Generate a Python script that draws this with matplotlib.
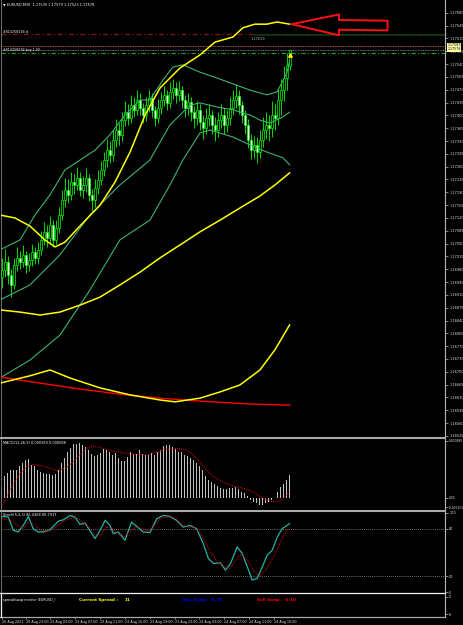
import numpy as np
import matplotlib
matplotlib.use("Agg")
import matplotlib.pyplot as plt
from matplotlib.lines import Line2D

W, H = 463, 625

# ---------------- EURUSD M30 price bars ----------------
opens = [1.16960, 1.16978, 1.17000, 1.16964, 1.16937, 1.16992, 1.17011, 1.17000, 1.17019, 1.16992,
         1.17005, 1.17027, 1.17011, 1.17033, 1.17060, 1.17082, 1.17065, 1.17101, 1.17060, 1.17093,
         1.17128, 1.17169, 1.17196, 1.17183, 1.17218, 1.17210, 1.17229, 1.17196, 1.17210, 1.17229,
         1.17183, 1.17169, 1.17202, 1.17224, 1.17251, 1.17278, 1.17305, 1.17292, 1.17333, 1.17360,
         1.17347, 1.17387, 1.17409, 1.17393, 1.17428, 1.17415, 1.17442, 1.17420, 1.17401, 1.17428,
         1.17447, 1.17415, 1.17393, 1.17420, 1.17442, 1.17456, 1.17434, 1.17464, 1.17475, 1.17456,
         1.17469, 1.17442, 1.17420, 1.17437, 1.17409, 1.17393, 1.17415, 1.17382, 1.17366, 1.17393,
         1.17401, 1.17374, 1.17360, 1.17387, 1.17401, 1.17374, 1.17393, 1.17420, 1.17442, 1.17453,
         1.17428, 1.17401, 1.17374, 1.17333, 1.17305, 1.17319, 1.17300, 1.17333, 1.17360, 1.17374,
         1.17366, 1.17401, 1.17393, 1.17442, 1.17469, 1.17502, 1.17535]
highs = [1.17010, 1.17035, 1.17015, 1.16980, 1.17010, 1.17040, 1.17030, 1.17045, 1.17030, 1.17025,
         1.17050, 1.17040, 1.17055, 1.17085, 1.17110, 1.17100, 1.17125, 1.17115, 1.17115, 1.17150,
         1.17195, 1.17230, 1.17225, 1.17245, 1.17240, 1.17260, 1.17245, 1.17235, 1.17255, 1.17240,
         1.17200, 1.17225, 1.17250, 1.17275, 1.17300, 1.17335, 1.17330, 1.17360, 1.17390, 1.17380,
         1.17410, 1.17440, 1.17430, 1.17455, 1.17450, 1.17470, 1.17460, 1.17435, 1.17450, 1.17470,
         1.17460, 1.17425, 1.17445, 1.17465, 1.17480, 1.17470, 1.17490, 1.17500, 1.17490, 1.17495,
         1.17480, 1.17455, 1.17460, 1.17450, 1.17425, 1.17440, 1.17430, 1.17400, 1.17420, 1.17430,
         1.17415, 1.17395, 1.17410, 1.17430, 1.17420, 1.17415, 1.17450, 1.17470, 1.17485, 1.17470,
         1.17440, 1.17415, 1.17390, 1.17350, 1.17345, 1.17340, 1.17360, 1.17395, 1.17410, 1.17400,
         1.17440, 1.17430, 1.17475, 1.17500, 1.17535, 1.17570, 1.17579]
lows = [1.16930, 1.16960, 1.16940, 1.16905, 1.16925, 1.16975, 1.16980, 1.16985, 1.16970, 1.16975,
        1.16990, 1.16995, 1.16995, 1.17020, 1.17045, 1.17040, 1.17050, 1.17040, 1.17050, 1.17080,
        1.17115, 1.17150, 1.17160, 1.17170, 1.17185, 1.17195, 1.17180, 1.17175, 1.17190, 1.17165,
        1.17140, 1.17150, 1.17185, 1.17210, 1.17235, 1.17260, 1.17270, 1.17275, 1.17315, 1.17320,
        1.17330, 1.17370, 1.17375, 1.17380, 1.17395, 1.17400, 1.17400, 1.17380, 1.17385, 1.17410,
        1.17395, 1.17370, 1.17380, 1.17405, 1.17425, 1.17415, 1.17420, 1.17445, 1.17435, 1.17440,
        1.17420, 1.17395, 1.17400, 1.17385, 1.17365, 1.17375, 1.17360, 1.17335, 1.17350, 1.17370,
        1.17350, 1.17330, 1.17340, 1.17365, 1.17350, 1.17355, 1.17375, 1.17400, 1.17420, 1.17405,
        1.17380, 1.17350, 1.17310, 1.17280, 1.17285, 1.17270, 1.17285, 1.17315, 1.17335, 1.17330,
        1.17340, 1.17360, 1.17375, 1.17400, 1.17440, 1.17470, 1.17523]
closes = [1.16978, 1.17000, 1.16964, 1.16937, 1.16992, 1.17011, 1.17000, 1.17019, 1.16992, 1.17005,
          1.17027, 1.17011, 1.17033, 1.17060, 1.17082, 1.17065, 1.17101, 1.17060, 1.17093, 1.17128,
          1.17169, 1.17196, 1.17183, 1.17218, 1.17210, 1.17229, 1.17196, 1.17210, 1.17229, 1.17183,
          1.17169, 1.17202, 1.17224, 1.17251, 1.17278, 1.17305, 1.17292, 1.17333, 1.17360, 1.17347,
          1.17387, 1.17409, 1.17393, 1.17428, 1.17415, 1.17442, 1.17420, 1.17401, 1.17428, 1.17447,
          1.17415, 1.17393, 1.17420, 1.17442, 1.17456, 1.17434, 1.17464, 1.17475, 1.17456, 1.17469,
          1.17442, 1.17420, 1.17437, 1.17409, 1.17393, 1.17415, 1.17382, 1.17366, 1.17393, 1.17401,
          1.17374, 1.17360, 1.17387, 1.17401, 1.17374, 1.17393, 1.17420, 1.17442, 1.17453, 1.17428,
          1.17401, 1.17374, 1.17333, 1.17305, 1.17319, 1.17300, 1.17333, 1.17360, 1.17374, 1.17366,
          1.17401, 1.17393, 1.17442, 1.17469, 1.17502, 1.17538, 1.17578]

# ---------------- indicator lines on the price chart (bar index, price) ----------------
bb_up_x = [-0.6, 6.1, 11.1, 16.1, 21.1, 26.1, 31.1, 36.1, 41.1, 46.1, 49.4, 53.8, 57.1, 60.4,
           66.1, 71.8, 77.1, 82.8, 88.4, 91.8, 95.1, 96]
bb_up_y = [1.17033, 1.17060, 1.17128, 1.17183, 1.17251, 1.17278, 1.17305, 1.17347, 1.17401, 1.17442,
           1.17442, 1.17497, 1.17532, 1.17538, 1.17518, 1.17502, 1.17486, 1.17469, 1.17456, 1.17464,
           1.17516, 1.17551]
bb_mid_x = [-0.6, 9.4, 19.4, 29.4, 39.4, 49.4, 56.1, 62.8, 66.1, 71.8, 77.1, 82.8, 86.1, 89.4, 93.8, 96]
bb_mid_y = [1.16896, 1.16937, 1.17019, 1.17128, 1.17210, 1.17278, 1.17374, 1.17428, 1.17434, 1.17423,
            1.17415, 1.17401, 1.17387, 1.17379, 1.17396, 1.17409]
bb_low_x = [-0.6, 9.4, 19.4, 29.4, 39.4, 49.4, 56.1, 60.4, 66.1, 69.4, 77.1, 82.8, 88.4, 93.8, 96]
bb_low_y = [1.16683, 1.16732, 1.16800, 1.16923, 1.17060, 1.17114, 1.17210, 1.17278, 1.17352, 1.17360,
            1.17341, 1.17319, 1.17300, 1.17284, 1.17265]

yel_up_x = [-0.6, 4.4, 9.4, 14.4, 17.8, 21.1, 26.1, 32.8, 37.8, 42.8, 47.8, 52.8, 59.4, 66.1, 71.1,
            77.1, 80.4, 84.4, 88.4, 91.8, 96]
yel_up_y = [1.17128, 1.17120, 1.17098, 1.17060, 1.17041, 1.17054, 1.17098, 1.17155, 1.17218, 1.17300,
            1.17401, 1.17475, 1.17529, 1.17565, 1.17600, 1.17614, 1.17639, 1.17649, 1.17649, 1.17655,
            1.17649]
yel_mid_x = [-0.6, 6.1, 12.8, 19.4, 26.1, 32.8, 39.4, 46.1, 52.8, 59.4, 66.1, 72.8, 79.4, 86.1, 91.1, 96]
yel_mid_y = [1.16869, 1.16863, 1.16855, 1.16863, 1.16882, 1.16904, 1.16937, 1.16972, 1.17011, 1.17046,
             1.17082, 1.17114, 1.17147, 1.17180, 1.17210, 1.17243]
yel_low_x = [-0.6, 9.4, 16.1, 22.8, 32.8, 42.8, 52.8, 57.8, 66.1, 72.8, 79.4, 86.1, 91.1, 96]
yel_low_y = [1.16669, 1.16689, 1.16705, 1.16683, 1.16656, 1.16637, 1.16623, 1.16618, 1.16628, 1.16645,
             1.16664, 1.16705, 1.16760, 1.16828]
red_ma_x = [-0.6, 12.8, 26.1, 39.4, 52.8, 66.1, 82.8, 96]
red_ma_y = [1.16686, 1.16669, 1.16653, 1.16639, 1.16628, 1.16620, 1.16612, 1.16609]

# order / price levels
sl_level = 1.17622
hline_level = 1.17619
ask_price = 1.17589
bid_price = 1.17578
buy_price = 1.17570

# ---------------- MACD (x 1e-5) ----------------
macd_hist = [17, 34, 39, 43, 43, 44, 50, 55, 59, 60, 52, 49, 44, 41, 38, 37, 37, 36, 37, 43,
             54, 62, 71, 78, 84, 84, 86, 83, 79, 74, 69, 65, 67, 70, 76, 74, 72, 67, 70, 62,
             58, 58, 64, 71, 69, 69, 75, 69, 67, 67, 70, 67, 71, 74, 81, 83, 83, 80, 76, 72,
             71, 67, 65, 62, 59, 54, 50, 43, 34, 28, 24, 21, 18, 15, 13, 13, 15, 15, 16, 13,
             9, 8, 2, -3, -6, -8, -12, -12, -9, -6, -3, -1, 9, 16, 21, 28, 36]
macd_sig_x = [0, 2.8, 6.1, 8.3, 10.5, 13.9, 17.2, 18.9, 21.1, 23.3, 26.1, 28.3, 30, 32.8, 36.1, 39.4,
              43.9, 48.3, 51.7, 55, 58.3, 61.7, 63.9, 66.1, 68.3, 70.6, 73.9, 77.2, 80.5, 83.9,
              87.2, 90, 92.2, 93.9, 96]
macd_sig_y = [-14, 12, 38, 49, 52, 50, 44, 42, 46, 54, 67, 77, 81, 79, 74, 71, 68, 67, 71, 76, 77,
              75, 67, 56, 43, 33, 24, 18, 15, 9, -1, -6, -6, -1, 8.8]

# ---------------- Stochastic ----------------
stoch_x = [0, 2.2, 3.9, 5.5, 7.2, 8.9, 10.5, 12.2, 13.9, 16.1, 18.9, 20.6, 22.8, 24.4, 26.1, 27.8,
           29.5, 31.1, 32.8, 34.5, 36.1, 37.2, 38.9, 41.1, 43.3, 45, 47.2, 49.4, 51.7, 53.9, 56.1,
           58.3, 60.5, 62.8, 65, 67.2, 68.9, 70.6, 72.9, 74.6, 76.3, 78.5, 80.2, 81.9, 83.5, 85.2,
           86.9, 88.5, 90.2, 91.9, 93.5, 96]
stoch_k = [95.4, 94.7, 77.9, 75.8, 84.1, 95.4, 80, 75.8, 75.8, 78.7, 89.5, 91.2, 96.6, 94.7, 85.4,
           87, 77, 67.5, 77.9, 90.4, 84.1, 73.7, 75.8, 65.4, 88.3, 82.9, 75.8, 75, 92.5, 96.6, 95.4,
           90.4, 82, 84.1, 80, 61.2, 42.5, 36.2, 37.1, 27.9, 36.2, 57.1, 48.7, 32, 15.4, 17.5, 32,
           46.6, 52.9, 69.5, 80, 86.4]
stoch_sig_x = [0, 3, 5, 7, 9, 11, 13, 16, 19, 22, 25, 27, 29, 31, 33, 35, 37, 39, 41, 43, 45, 47, 49,
               51, 53, 56, 58, 60, 62, 64, 66, 68, 70, 72, 74, 76, 78, 80, 82, 84, 86, 88, 90, 92,
               94, 96]
stoch_d = [93, 90, 85, 80, 88, 85, 78, 77, 85, 92, 94, 88, 82, 73, 72, 82, 80, 73, 70, 78, 82, 80,
           77, 85, 93, 95, 93, 85, 82, 82, 75, 62, 48, 38, 33, 30, 40, 48, 40, 27, 20, 28, 40, 55,
           72, 80]

price_ticks = np.round(np.arange(1.16525, 1.17681, 0.00035), 5)
time_pos = [0, 8, 16, 24.4, 32.8, 41.1, 49.4, 57.8, 65.8, 74.1, 82.4, 90.8]
time_labels = ["20 Aug 2021", "20 Aug 23:00", "23 Aug 03:00", "23 Aug 07:00", "23 Aug 11:00",
               "23 Aug 15:00", "23 Aug 19:00", "23 Aug 23:00", "24 Aug 03:00", "24 Aug 07:00",
               "24 Aug 11:00", "24 Aug 15:00"]

FS = 2.5
AXC = "#B8B8B8"
XLIM = (-0.23, 147.8)

fig = plt.figure(figsize=(W / 100, H / 100), dpi=100, facecolor="black")


def box(top, bottom, left=1, right=445):
    return [left / W, 1 - bottom / H, (right - left) / W, (bottom - top) / H]


def fpx(x, y):
    return x / W, 1 - y / H


def style(ax, fs=FS):
    ax.set_facecolor("black")
    ax.set_xlim(*XLIM)
    for s in ("top", "bottom"):
        ax.spines[s].set_visible(False)
    ax.spines["left"].set_color("#808080")
    ax.spines["left"].set_linewidth(0.6)
    ax.spines["right"].set_color(AXC)
    ax.spines["right"].set_linewidth(0.8)
    ax.yaxis.tick_right()
    ax.tick_params(axis="y", colors=AXC, labelcolor="#E0E0E0", labelsize=fs, length=2,
                   width=0.5, pad=1)
    ax.tick_params(axis="x", bottom=False, labelbottom=False)


# ---- main price panel ----
ax = fig.add_axes(box(0, 437))
style(ax)
ax.set_ylim(1.16522, 1.17715)
ax.set_yticks(price_ticks)
ax.set_yticklabels([f"{p:.5f}" for p in price_ticks])

idx = np.arange(len(closes))
o = np.array(opens); c = np.array(closes)
ax.vlines(idx, lows, highs, color="#00FF00", lw=0.6, zorder=3)
bull = c >= o
ax.bar(idx[bull], (c - o)[bull], bottom=o[bull], width=0.62, color="black",
       edgecolor="#00FF00", lw=0.5, zorder=4)
ax.bar(idx[~bull], (o - c)[~bull], bottom=c[~bull], width=0.62, color="white",
       edgecolor="#00FF00", lw=0.5, zorder=4)

for xs, ys in [(bb_up_x, bb_up_y), (bb_mid_x, bb_mid_y), (bb_low_x, bb_low_y)]:
    ax.plot(xs, ys, color="#3CB371", lw=0.8, zorder=5)
for xs, ys in [(yel_up_x, yel_up_y), (yel_mid_x, yel_mid_y), (yel_low_x, yel_low_y)]:
    ax.plot(xs, ys, color="#FFFF00", lw=1.1, zorder=6)
ax.plot(red_ma_x, red_ma_y, color="#FF0000", lw=1.0, zorder=5)

ax.axhline(sl_level, color="#8B1010", lw=0.9, ls=(0, (4, 2, 1, 2)), zorder=2)
ax.plot([84, XLIM[1]], [hline_level, hline_level], color="#0B3D0B", lw=1.2, zorder=2)
ax.axhline(ask_price, color="#E07060", lw=0.6, ls=(0, (1, 1)), zorder=2)
ax.axhline(bid_price, color="#A0A0A0", lw=0.6, ls=(0, (1, 1)), zorder=2)
ax.axhline(buy_price, color="#20A020", lw=0.8, ls=(0, (4, 2, 1, 2)), zorder=2)
ax.plot([96], [buy_price - 0.00005], marker="^", ms=2.5, color="#FFFF00", zorder=7)

# red hollow arrow pointing at the yellow band
ax.annotate("", xy=(yel_up_x[-1] + 0.7, yel_up_y[-1]), xytext=(69, -1.0),
            textcoords="offset points",
            arrowprops=dict(arrowstyle="simple,head_length=34,head_width=15,tail_width=7",
                            mutation_scale=1, fc="black", ec="#FF1010", lw=1.4,
                            shrinkA=0, shrinkB=0), zorder=8)

fig.text(*fpx(3, 5), "\u25bc EURUSD,M30  1.17535 1.17579 1.17523 1.17578", color="white",
         fontsize=FS, va="center", ha="left")
fig.text(*fpx(3, 32), "#013258294 sl", color="white", fontsize=FS - 0.2, va="center")
fig.text(*fpx(3, 49.5), "#013258294 buy 1.00", color="white", fontsize=FS - 0.2, va="center")
fig.text(*fpx(251, 38.5), "1.17619", color="#C0C0C0", fontsize=FS, va="center")
fig.text(*fpx(447.5, 47.2), f"{ask_price:.5f}\n{bid_price:.5f}", color="black",
         fontsize=FS - 0.2, va="center", linespacing=1.0,
         bbox=dict(boxstyle="square,pad=0.12", fc="#FFFFA8", ec="none"))

# ---- MACD panel ----
axm = fig.add_axes(box(439, 509))
style(axm, fs=2.1)
axm.set_ylim(-17.7e-5, 92e-5)
axm.bar(np.arange(len(macd_hist)), np.array(macd_hist) * 1e-5, width=0.36, color="#C0C0C0")
axm.plot(macd_sig_x, np.array(macd_sig_y) * 1e-5, color="#FF0000", lw=0.7, ls=(0, (1, 1.2)))
axm.set_yticks([0.000889, 0.0, -0.000153])
axm.set_yticklabels(["0.000889", "0.00", "-0.000153"])
fig.text(*fpx(3, 443), "MACD(12,26,9) 0.000360 0.000088", color="white", fontsize=FS,
         va="center")

# ---- Stochastic panel ----
axs = fig.add_axes(box(511.5, 593))
style(axs)
axs.set_ylim(-0.9, 101.6)
axs.axhline(80, color="#909090", lw=0.6, ls=(0, (1, 1.5)))
axs.axhline(20, color="#909090", lw=0.6, ls=(0, (1, 1.5)))
axs.plot(stoch_x, stoch_k, color="#20B2AA", lw=0.9)
axs.plot(stoch_sig_x, stoch_d, color="#FF0000", lw=0.7, ls=(0, (1, 1.2)))
axs.set_yticks([100, 80, 20, 0])
axs.set_yticklabels(["100", "80", "20", "0"])
fig.text(*fpx(3, 515), "Stoch(5,3,3) 86.4368 80.7917", color="white", fontsize=FS, va="center")

# ---- spread / swap monitor panel ----
axp = fig.add_axes(box(594, 617))
style(axp)
axp.set_ylim(0, 1)
axp.set_yticks([0.87, 0.13])
axp.set_yticklabels(["0", "0"])
axp.set_xticks(time_pos)
axp.set_xticklabels(time_labels)
axp.tick_params(axis="x", bottom=True, labelbottom=True, colors=AXC, labelcolor="#E0E0E0",
                labelsize=FS - 0.1, length=1.5, width=0.5, pad=1)
for t in axp.get_xticklabels():
    t.set_ha("left")
fig.text(*fpx(3, 600), "spread/swap monitor (EURUSD_)", color="white", fontsize=FS - 0.2,
         va="center")
BIG = 3.0
fig.text(*fpx(79, 600), "Current Spread :", color="#FFFF00", fontsize=BIG,
         fontweight="bold", va="center")
fig.text(*fpx(125, 600), "11", color="#FFFF00", fontsize=BIG, fontweight="bold",
         va="center")
fig.text(*fpx(183, 600), "Buy Swap : -6.79", color="#0000FF", fontsize=BIG,
         fontweight="bold", va="center")
fig.text(*fpx(257, 600), "Sell Swap : -0.10", color="#FF0000", fontsize=BIG,
         fontweight="bold", va="center")

# panel separators
for yy, col, lw in [(437.8, "#A8A8A8", 1.5), (510.5, "#A8A8A8", 1.5), (593.3, "#F0F0F0", 0.9),
                    (617.2, "#A8A8A8", 0.9)]:
    fig.add_artist(Line2D([0, 445 / W], [1 - yy / H] * 2, color=col, lw=lw))
fig.add_artist(Line2D([1 / W] * 2, [1 - 593.3 / H, 1 - 617.2 / H], color="#F0F0F0", lw=0.9))

fig.savefig("out.png", dpi=100, facecolor="black")
